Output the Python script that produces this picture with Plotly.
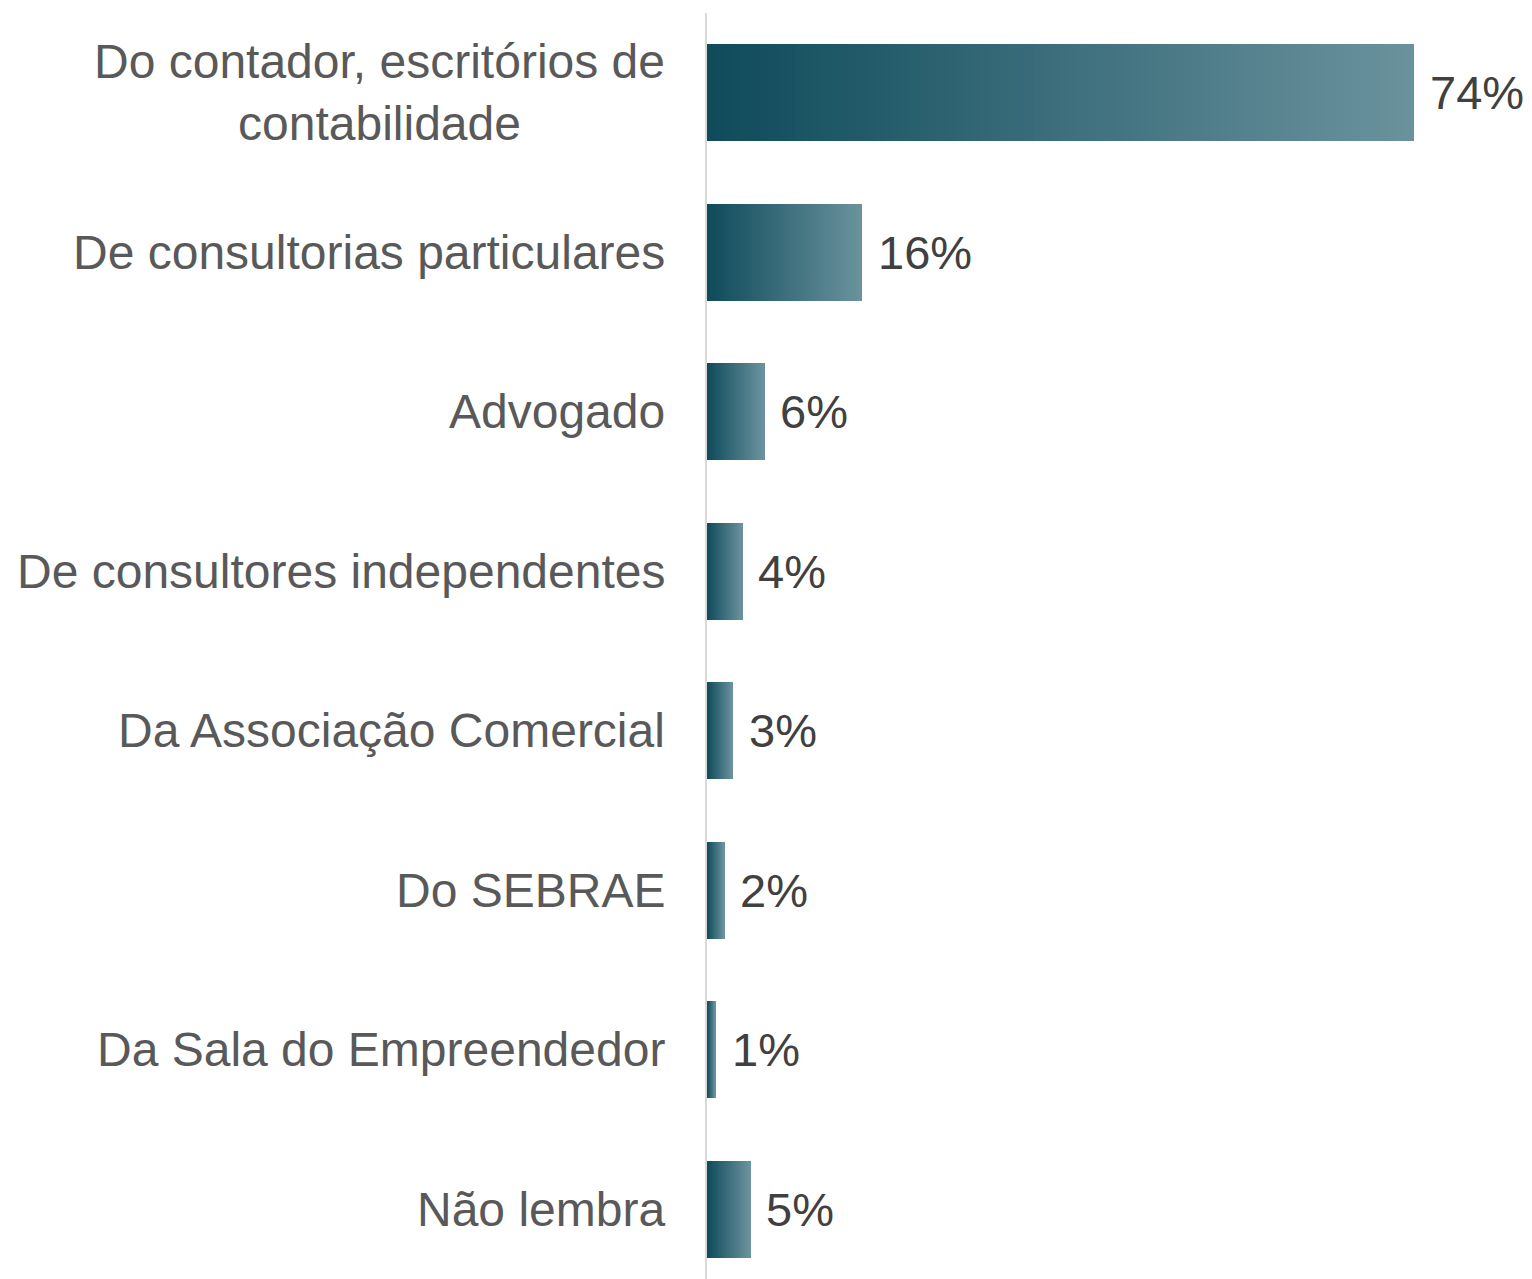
import plotly.graph_objects as go

categories = [
    "Do contador, escritórios de<br>contabilidade",
    "De consultorias particulares",
    "Advogado",
    "De consultores independentes",
    "Da Associação Comercial",
    "Do SEBRAE",
    "Da Sala do Empreendedor",
    "Não lembra",
]
values = [74.0, 16.2, 6.0, 3.7, 2.7, 1.8, 0.9, 4.5]
value_labels = ["74%", "16%", "6%", "4%", "3%", "2%", "1%", "5%"]

dark = (15, 75, 91)
light = (106, 146, 157)
N = 80

fig = go.Figure()
for i in range(N):
    t = i / (N - 1)
    c = tuple(round(dark[k] + (light[k] - dark[k]) * t) for k in range(3))
    color = "rgb(%d,%d,%d)" % c
    fig.add_trace(go.Bar(
        y=list(range(len(categories))),
        x=[v * (N - i) / N for v in values],
        base=[v * i / N for v in values],
        orientation="h",
        width=0.61,
        marker=dict(color=color, line=dict(width=0)),
        hoverinfo="skip",
        showlegend=False,
    ))

annotations = []
for idx, (cat, v, lab) in enumerate(zip(categories, values, value_labels)):
    annotations.append(dict(
        x=0, xref="paper", y=idx, yref="y", text=cat, showarrow=False,
        xanchor="right", yanchor="middle", xshift=-40, align="center",
        font=dict(family="Liberation Sans, Arial, sans-serif", size=48, color="#595959"),
    ))
    annotations.append(dict(
        x=v, xref="x", y=idx, yref="y", text=lab, showarrow=False,
        xanchor="left", yanchor="middle", xshift=14,
        font=dict(family="Liberation Sans, Arial, sans-serif", size=47, color="#404040"),
    ))

fig.update_layout(
    width=1524, height=1271,
    margin=dict(l=699, r=0, t=5, b=0),
    paper_bgcolor="white", plot_bgcolor="white",
    barmode="overlay",
    bargap=0,
    annotations=annotations,
    xaxis=dict(range=[0, 86.3], visible=False, fixedrange=True),
    yaxis=dict(
        range=[7.437, -0.5],
        showticklabels=False, ticks="", showgrid=False, zeroline=False,
        showline=True, linecolor="#d9d9d9", linewidth=2,
        fixedrange=True,
    ),
)

fig.write_html("out.html")
